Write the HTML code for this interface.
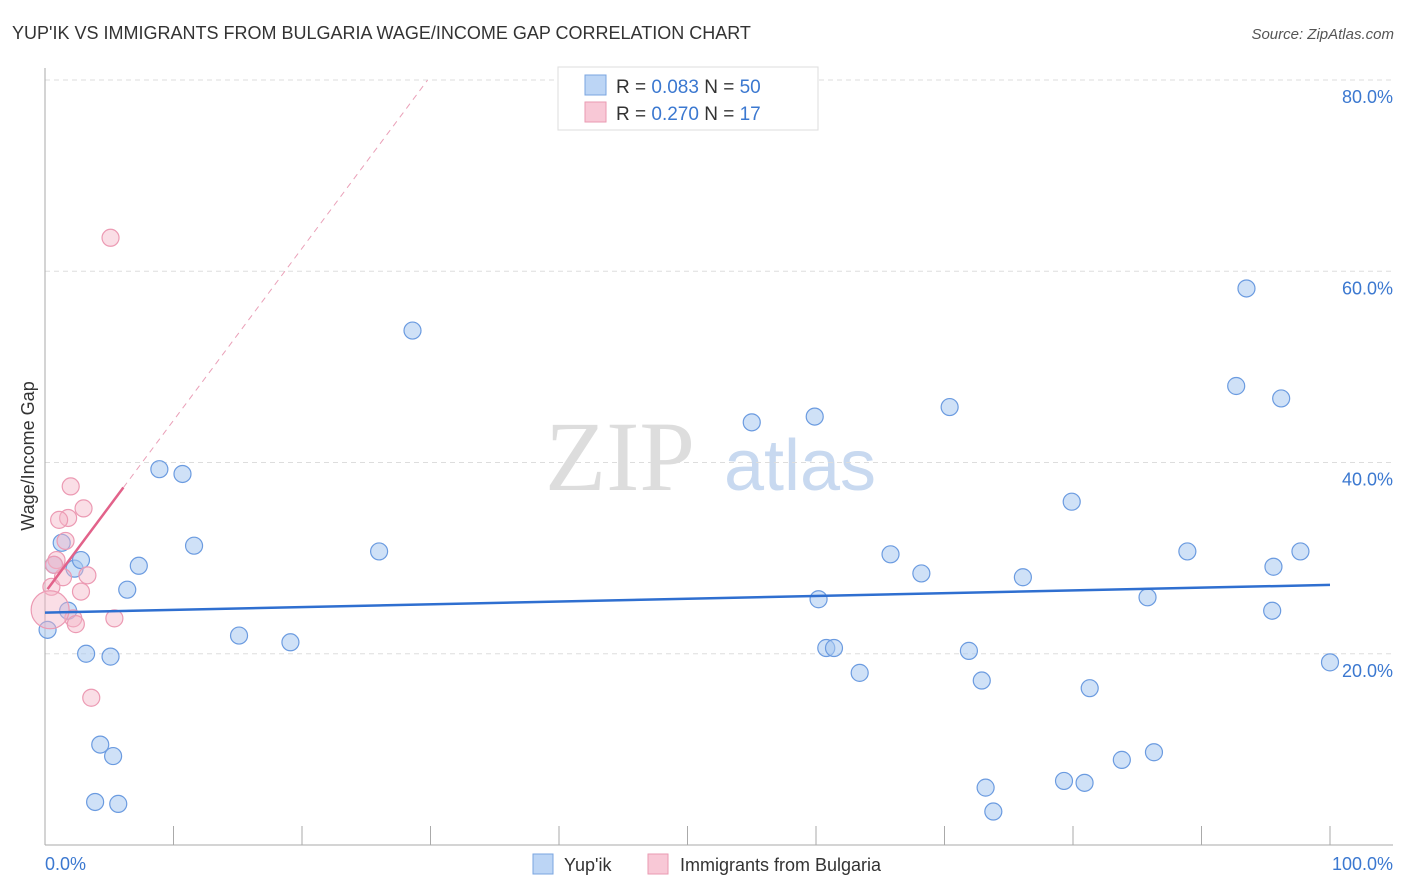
<!DOCTYPE html>
<html><head><meta charset="utf-8"><style>
body{margin:0;background:#fff;font-family:"Liberation Sans",sans-serif}
svg{display:block}
</style></head><body>
<svg id="c" width="1406" height="892" xmlns="http://www.w3.org/2000/svg">
<text x="12" y="39" font-size="18" fill="#333">YUP'IK VS IMMIGRANTS FROM BULGARIA WAGE/INCOME GAP CORRELATION CHART</text>
<text x="1394" y="39" font-size="15" fill="#555" font-style="italic" text-anchor="end">Source: ZipAtlas.com</text>
<text x="620" y="490" font-size="100" fill="#ddd" font-family="Liberation Serif,serif" text-anchor="middle">ZIP</text>
<text x="800" y="490" font-size="72" fill="#c8d9f0" text-anchor="middle">atlas</text>
<g id="grid"></g>
<g id="axes"></g>
<g id="pts"></g>
<text transform="translate(34,456) rotate(-90)" font-size="18" fill="#333" text-anchor="middle">Wage/Income Gap</text>
<text x="45" y="870" font-size="18" fill="#3b78d0">0.0%</text>
<text x="1393" y="870" font-size="18" fill="#3b78d0" text-anchor="end">100.0%</text>
<g>
<rect x="558" y="67" width="260" height="63" fill="#fff" stroke="#ddd"/>
<rect x="585" y="75" width="21" height="20" fill="#bcd5f5" stroke="#7aa5e0"/>
<rect x="585" y="102" width="21" height="20" fill="#f8c8d6" stroke="#ea9ab2"/>
<text x="616" y="93" font-size="19" fill="#333">R = <tspan fill="#3b78d0">0.083</tspan>   N = <tspan fill="#3b78d0">50</tspan></text>
<text x="616" y="120" font-size="19" fill="#333">R = <tspan fill="#3b78d0">0.270</tspan>   N = <tspan fill="#3b78d0"> 17</tspan></text>
</g>
<g>
<rect x="533" y="854" width="20" height="20" fill="#bcd5f5" stroke="#7aa5e0"/>
<text x="564" y="871" font-size="18" fill="#333">Yup'ik</text>
<rect x="648" y="854" width="20" height="20" fill="#f8c8d6" stroke="#ea9ab2"/>
<text x="680" y="871" font-size="18" fill="#333">Immigrants from Bulgaria</text>
</g>
</svg>
<script>
const yTicks=[20,40,60,80];
const xTickVals=[0,10,20,30,40,50,60,70,80,90,100];
const blueX=[0.2,1.3,1.8,2.3,2.8,3.2,4.3,3.9,5.1,5.3,5.7,6.4,7.3,8.9,10.7,11.6,15.1,19.1,26.0,28.6,55.0,59.9,60.2,60.8,61.4,63.4,65.8,68.2,70.4,71.9,72.9,73.2,73.8,76.1,79.3,79.9,80.9,81.3,83.8,85.8,86.3,88.9,92.7,93.5,95.5,95.6,96.2,97.7,100,0.7];
const blueY=[22.5,31.6,24.5,28.9,29.8,20.0,10.5,4.5,19.7,9.3,4.3,26.7,29.2,39.3,38.8,31.3,21.9,21.2,30.7,53.8,44.2,44.8,25.7,20.6,20.6,18.0,30.4,28.4,45.8,20.3,17.2,6.0,3.5,28.0,6.7,35.9,6.5,16.4,8.9,25.9,9.7,30.7,48.0,58.2,24.5,29.1,46.7,30.7,19.1,29.3];
const pinkX=[5.1,2.0,3.0,1.8,1.1,1.6,0.9,0.5,2.8,1.4,3.3,2.2,2.4,5.4,3.6,0.4,0.7];
const pinkY=[63.5,37.5,35.2,34.2,34.0,31.8,29.8,27.0,26.5,28.0,28.2,23.7,23.1,23.7,15.4,24.6,29.3];
const blueTrend=[24.3,27.2];
const pinkTrend=[26.4,1.8];
const X=v=>45+v*12.85, Y=v=>845-v*9.5625;
const NS="http://www.w3.org/2000/svg";
function mk(p,t,a){const e=document.createElementNS(NS,t);for(const k in a)e.setAttribute(k,a[k]);document.getElementById(p).appendChild(e);return e;}
yTicks.forEach(v=>{
 const l=mk('grid','line',{x1:45,x2:1393,y1:Y(v),y2:Y(v),stroke:'#ddd','stroke-dasharray':'5,4'});
 
 
 const t=mk('grid','text',{x:1393,y:Y(v)+23,'font-size':18,fill:'#3b78d0','text-anchor':'end'});
 t.textContent=v.toFixed(1)+'%';
 
 
});
const ax=mk('axes','line',{x1:45,x2:45,y1:68,y2:845,stroke:'#aaa'});


const bx=mk('axes','line',{x1:45,x2:1393,y1:845,y2:845,stroke:'#aaa'});


xTickVals.forEach(v=>{
 const t=mk('axes','line',{x1:X(v),x2:X(v),y1:826,y2:845,stroke:'#aaa'});
 
 
});
blueX.forEach((x,i)=>{
 const c=mk('pts','circle',{cx:X(x),cy:Y(blueY[i]),r:8.5,fill:'rgba(168,200,240,0.55)',stroke:'#6b9be0','stroke-width':1.2});
 
 
});
pinkX.forEach((x,i)=>{
 const c=mk('pts','circle',{cx:X(x),cy:Y(pinkY[i]),r:i==15?19:8.5,fill:'rgba(244,182,200,0.45)',stroke:'#ec9ab3','stroke-width':1.2});
 
 
});
const bt=mk('pts','line',{x1:X(0),x2:X(100),y1:Y(blueTrend[0]),y2:Y(blueTrend[1]),stroke:'#2f6fd0','stroke-width':2.5});


const pEnd=6.1, pDash=(80-pinkTrend[0])/pinkTrend[1];
const ps=mk('pts','line',{x1:X(0.2),x2:X(pEnd),y1:Y(pinkTrend[0]+pinkTrend[1]*0.2),y2:Y(pinkTrend[0]+pinkTrend[1]*pEnd),stroke:'#e2628a','stroke-width':2.5});


const pd=mk('pts','line',{x1:X(pEnd),x2:X(pDash),y1:Y(pinkTrend[0]+pinkTrend[1]*pEnd),y2:Y(80),stroke:'#eaa0b8','stroke-width':1,'stroke-dasharray':'6,5'});


</script>
</body></html>
